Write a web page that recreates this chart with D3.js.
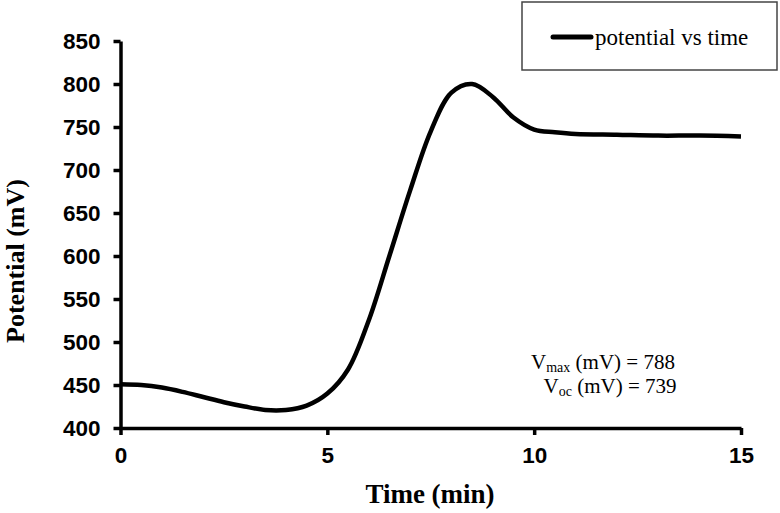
<!DOCTYPE html>
<html>
<head>
<meta charset="utf-8">
<script src="https://cdn.jsdelivr.net/npm/d3@7"></script>
<style>
  html, body { margin: 0; padding: 0; background: #fff; }
  svg { display: block; }
</style>
</head>
<body>
<svg id="chart" width="780" height="513"></svg>
<script>
// Potential vs time curve
const timeMin = [0, 0.5, 1, 1.5, 2, 2.5, 3, 3.5, 4, 4.5, 5, 5.5, 6, 6.5, 7, 7.5, 8, 8.5, 9, 9.5, 10, 10.5, 11, 12, 13, 14, 15];
const potentialMv = [451, 450, 447, 442, 436, 430, 425, 421, 421, 426, 440, 468, 525, 600, 676, 745, 790, 800, 785, 761, 747, 744, 742, 741, 740, 740, 739];
const xTicks = [0, 5, 10, 15];
const yTicks = [400, 450, 500, 550, 600, 650, 700, 750, 800, 850];
const seriesName = 'potential vs time';

const svg = d3.select('#chart');
const plotLeft = 120.5, plotRight = 741, plotTop = 41, plotBottom = 428;

const x = d3.scaleLinear().domain([0, 15]).range([plotLeft, plotRight]);
const y = d3.scaleLinear().domain([400, 850]).range([plotBottom, plotTop]);

const pts = timeMin.map((t, i) => [t, potentialMv[i]]);

// curve
svg.append('path')
  .datum(pts)
  .attr('fill', 'none')
  .attr('stroke', '#000')
  .attr('stroke-width', 4.5)
  .attr('stroke-linejoin', 'round')
  .attr('d', d3.line().x(d => x(d[0])).y(d => y(d[1])).curve(d3.curveCatmullRom.alpha(0.5)));

// axes
const yAxis = svg.append('g')
  .attr('transform', `translate(${plotLeft},0)`)
  .call(d3.axisLeft(y).tickValues(yTicks).tickSize(7).tickPadding(13).tickSizeOuter(0));
const xAxis = svg.append('g')
  .attr('transform', `translate(0,${plotBottom})`)
  .call(d3.axisBottom(x).tickValues(xTicks).tickSize(7).tickPadding(12).tickSizeOuter(0));

[xAxis, yAxis].forEach(g => {
  g.select('.domain').attr('stroke', '#000').attr('stroke-width', 3.5);
  g.selectAll('.tick line').attr('stroke', '#000').attr('stroke-width', 3.5);
  g.selectAll('.tick text')
    .attr('fill', '#000')
    .style('font-family', '"Liberation Sans", Arial, sans-serif')
    .style('font-weight', 'bold')
    .style('font-size', '22.5px');
});

// axis titles
svg.append('text')
  .attr('x', 430).attr('y', 503)
  .attr('text-anchor', 'middle')
  .style('font-family', '"Liberation Serif", "Times New Roman", serif')
  .style('font-weight', 'bold').style('font-size', '27px')
  .text('Time (min)');

svg.append('text')
  .attr('transform', 'translate(24,261) rotate(-90)')
  .attr('text-anchor', 'middle')
  .style('font-family', '"Liberation Serif", "Times New Roman", serif')
  .style('font-weight', 'bold').style('font-size', '26px')
  .text('Potential (mV)');

// legend
const legend = svg.append('g');
legend.append('rect')
  .attr('x', 522).attr('y', 2).attr('width', 255).attr('height', 68)
  .attr('fill', '#fff').attr('stroke', '#444').attr('stroke-width', 1.5);
legend.append('line')
  .attr('x1', 553).attr('x2', 591).attr('y1', 37).attr('y2', 37)
  .attr('stroke', '#000').attr('stroke-width', 5).attr('stroke-linecap', 'round');
legend.append('text')
  .attr('x', 595).attr('y', 45)
  .style('font-family', '"Liberation Serif", "Times New Roman", serif')
  .style('font-size', '23px')
  .text(seriesName);

// annotations
const note = svg.append('g')
  .style('font-family', '"Liberation Serif", "Times New Roman", serif')
  .style('font-size', '21px');
const t1 = note.append('text').attr('x', 603).attr('y', 369).attr('text-anchor', 'middle');
t1.append('tspan').text('V');
t1.append('tspan').attr('dy', 3).style('font-size', '14px').text('max');
t1.append('tspan').attr('dy', -3).text(' (mV) = 788');
const t2 = note.append('text').attr('x', 610).attr('y', 393).attr('text-anchor', 'middle');
t2.append('tspan').text('V');
t2.append('tspan').attr('dy', 3).style('font-size', '14px').text('oc');
t2.append('tspan').attr('dy', -3).text(' (mV) = 739');
</script>
</body>
</html>
